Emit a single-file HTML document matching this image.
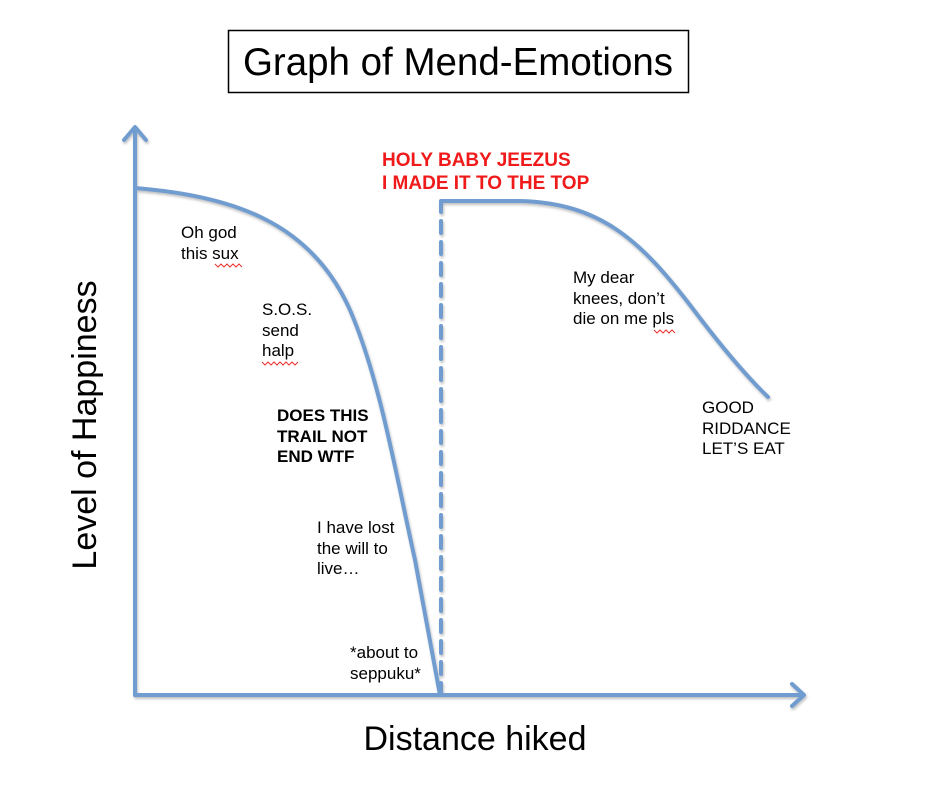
<!DOCTYPE html>
<html><head><meta charset="utf-8"><style>
html,body{margin:0;padding:0;background:#fff}
body{width:934px;height:804px;position:relative;overflow:hidden;font-family:"Liberation Sans",Arial,sans-serif}
.t{position:absolute;font-size:17px;line-height:20.5px;color:#000}
.b{font-weight:bold}
</style></head><body>
<svg width="934" height="804" style="position:absolute;left:0;top:0">
<defs><filter id="s" x="-5%" y="-5%" width="110%" height="110%"><feDropShadow dx="1" dy="2" stdDeviation="1.2" flood-color="#000" flood-opacity="0.25"/></filter></defs>
<rect x="228.5" y="30.5" width="460" height="62" fill="#fff" stroke="#000" stroke-width="1.5"/>
<g fill="none" stroke="#6f9ccf" stroke-width="4" filter="url(#s)" stroke-linecap="round" stroke-linejoin="round">
<path d="M135 695 V128"/>
<path d="M124 140 L135 127 L146 140"/>
<path d="M135 695 H803"/>
<path d="M792 684 L804 695 L792 706"/>
<path d="M135 188 C230 196 310 220 350 310 C380 380 395 470 415 560 L440 695"/>
<path d="M441 695 V205" stroke-dasharray="12 9"/>
<path d="M441 210 V201 H520 C600 203 640 240 690 305 C720 345 745 375 768 397"/>
</g>
</svg>
<div class="t" style="left:178px;top:41px;width:560px;text-align:center;font-size:38.5px;line-height:44px">Graph of Mend-Emotions</div>
<div class="t" style="left:-95px;top:405px;width:360px;text-align:center;font-size:34px;line-height:40px;transform:rotate(-90deg)">Level of Happiness</div>
<div class="t" style="left:300px;top:719px;width:350px;text-align:center;font-size:34px;line-height:40px">Distance hiked</div>
<div class="t b" style="left:382px;top:149px;color:#f01a1a;font-size:19px;line-height:23px">HOLY BABY JEEZUS<br>I MADE IT TO THE TOP</div>
<div class="t" style="left:181px;top:223px">Oh god<br>this sux</div>
<div class="t" style="left:262px;top:300px">S.O.S.<br>send<br>halp</div>
<div class="t b" style="left:277px;top:406px">DOES THIS<br>TRAIL NOT<br>END WTF</div>
<div class="t" style="left:317px;top:518px">I have lost<br>the will to<br>live…</div>
<div class="t" style="left:350px;top:643px">*about to<br>seppuku*</div>
<div class="t" style="left:573px;top:268px">My dear<br>knees, don’t<br>die on me pls</div>
<div class="t" style="left:702px;top:398px">GOOD<br>RIDDANCE<br>LET’S EAT</div>
<svg width="934" height="804" style="position:absolute;left:0;top:0">
<g fill="none" stroke="#e33" stroke-width="1">
<path d="M215 264 l3 3 l3 -3 l3 3 l3 -3 l3 3 l3 -3 l3 3 l3 -3 l3 3"/>
<path d="M262 362 l3 3 l3 -3 l3 3 l3 -3 l3 3 l3 -3 l3 3 l3 -3 l3 3 l3 -3 l3 3 l3 -3"/>
<path d="M654 330 l3 3 l3 -3 l3 3 l3 -3 l3 3 l3 -3 l3 3"/>
</g></svg>
</body></html>
